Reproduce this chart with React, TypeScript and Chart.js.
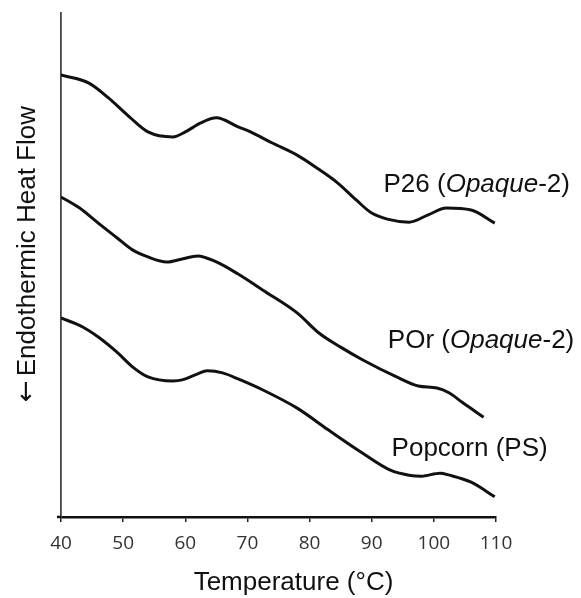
import React, { useEffect, useRef } from 'react';
import { Chart, registerables } from 'chart.js';

Chart.register(...registerables);

// Temperature (°C) samples for each thermogram
const tempP26 = [40, 44.5, 47.5, 51, 54, 58, 60, 62.5, 65, 68.5, 70.5, 74, 78, 81, 84.5, 87.5, 90, 92.5, 96, 99, 102, 106, 109.8];
const heatP26 = [87.7, 86.1, 83.3, 79.4, 76.4, 75.4, 76.4, 78.2, 79.2, 77.4, 76.4, 74.2, 71.8, 69.4, 66.3, 62.9, 60.3, 59.1, 58.5, 59.9, 61.3, 60.9, 58.3];

const tempPOr = [40, 43, 46, 49, 51.5, 54, 57, 59.5, 62, 65, 68.5, 72.5, 78, 81.5, 85, 88.5, 94, 97.5, 100.5, 102.5, 104.5, 108];
const heatPOr = [63.5, 61.3, 58.3, 55.4, 53.0, 51.6, 50.6, 51.2, 51.8, 50.6, 48.2, 45.0, 40.5, 36.5, 33.7, 31.2, 27.8, 26.0, 25.6, 24.6, 22.8, 19.8];

const tempPS = [40, 43.5, 46, 49, 51.5, 54, 58, 59.5, 62, 63.5, 66, 68.5, 72.5, 78, 83, 88.5, 93, 96, 98, 101, 102.5, 106, 109.8];
const heatPS = [39.5, 37.7, 35.7, 32.7, 29.8, 27.8, 27.0, 27.2, 28.4, 29.0, 28.6, 27.4, 25.2, 21.6, 17.3, 12.7, 9.3, 8.3, 8.1, 8.7, 8.3, 6.9, 4.0];

const xTickValues = [40, 50, 60, 70, 80, 90, 100, 110];
const xTitle = 'Temperature (°C)';
const yTitleArrow = '←';
const yTitle = 'Endothermic Heat Flow';

// Series labels: parts (italic flag) and anchor in data units
const labelP26 = [{ t: 'P26 (', i: false }, { t: 'Opaque', i: true }, { t: '-2)', i: false }];
const labelPOr = [{ t: 'POr (', i: false }, { t: 'Opaque', i: true }, { t: '-2)', i: false }];
const labelPS = [{ t: 'Popcorn (PS)', i: false }];
const labelAnchorX = [91.9, 92.6, 93.2];
const labelAnchorY = [64.5, 33.5, 12.1];

const FONT = '"Liberation Sans", Arial, sans-serif';

function toPoints(xs: number[], ys: number[]) {
  return xs.map((x, k) => ({ x, y: ys[k] }));
}

const textPlugin = {
  id: 'customText',
  afterDraw(chart: any) {
    const ctx = chart.ctx as CanvasRenderingContext2D;
    const xs = chart.scales.x;
    const ys = chart.scales.y;
    const area = chart.chartArea;
    ctx.save();
    // small overhang of the x axis to the left of the y axis
    ctx.strokeStyle = '#111';
    ctx.lineWidth = 2.5;
    ctx.beginPath();
    ctx.moveTo(area.left - 4, area.bottom);
    ctx.lineTo(area.left, area.bottom);
    ctx.stroke();

    ctx.fillStyle = '#111';
    ctx.textBaseline = 'alphabetic';
    ctx.textAlign = 'left';
    const labels = [labelP26, labelPOr, labelPS];
    labels.forEach((parts, k) => {
      let px = xs.getPixelForValue(labelAnchorX[k]);
      const py = ys.getPixelForValue(labelAnchorY[k]);
      parts.forEach((p) => {
        ctx.font = `${p.i ? 'italic ' : ''}26px ${FONT}`;
        ctx.fillText(p.t, px, py);
        px += ctx.measureText(p.t).width;
      });
    });
    // x-axis title
    ctx.font = `26px ${FONT}`;
    ctx.textAlign = 'center';
    ctx.fillText(xTitle, 293.5, 590);
    // y-axis title (rotated), arrow drawn with a font that has a long arrow
    ctx.translate(35, 254);
    ctx.rotate(-Math.PI / 2);
    ctx.font = `26px ${FONT}`;
    const wText = ctx.measureText(yTitle).width;
    ctx.font = `26px "DejaVu Sans", sans-serif`;
    const wArrow = ctx.measureText(yTitleArrow).width;
    const gap = 4;
    const total = wArrow + gap + wText;
    ctx.textAlign = 'left';
    ctx.fillText(yTitleArrow, -total / 2, -1);
    ctx.font = `26px ${FONT}`;
    ctx.fillText(yTitle, -total / 2 + wArrow + gap, 0);
    ctx.restore();
  },
};

export default function App() {
  const canvasRef = useRef<HTMLCanvasElement | null>(null);

  useEffect(() => {
    document.body.style.margin = '0';
    const canvas = canvasRef.current;
    if (!canvas) return;
    const mk = (label: string, xs: number[], ys: number[]) => ({
      label,
      data: toPoints(xs, ys),
      borderColor: '#111',
      borderWidth: 3,
      pointRadius: 0,
      fill: false,
      cubicInterpolationMode: 'monotone' as const,
    });
    const chart = new Chart(canvas, {
      type: 'line',
      data: {
        datasets: [
          mk('P26 (Opaque-2)', tempP26, heatP26),
          mk('POr (Opaque-2)', tempPOr, heatPOr),
          mk('Popcorn (PS)', tempPS, heatPS),
        ],
      },
      options: {
        animation: false,
        responsive: false,
        events: [],
        layout: { padding: { top: 13, right: 85, left: 0, bottom: 0 } },
        plugins: {
          legend: { display: false },
          tooltip: { enabled: false },
          title: { display: false },
        },
        scales: {
          x: {
            type: 'linear',
            min: 40,
            max: 110,
            afterFit: (s: any) => {
              s.height = 81;
            },
            afterBuildTicks: (s: any) => {
              s.ticks = xTickValues.map((v) => ({ value: v }));
            },
            grid: {
              display: true,
              drawOnChartArea: false,
              drawTicks: true,
              tickLength: 5,
              color: '#222',
              lineWidth: 1.5,
            },
            border: { display: true, color: '#111', width: 2.5 },
            ticks: {
              color: '#333',
              padding: 10,
              font: { family: '"Open Sans", "Liberation Sans", sans-serif', size: 19 },
              maxRotation: 0,
            },
          },
          y: {
            type: 'linear',
            min: 0,
            max: 100,
            afterFit: (s: any) => {
              s.width = 61;
            },
            grid: { display: false },
            border: { display: true, color: '#444', width: 1.8 },
            ticks: { display: false },
          },
        },
      },
      plugins: [textPlugin],
    });
    return () => chart.destroy();
  }, []);

  return (
    <div style={{ width: 581, height: 598, background: '#fff' }}>
      <canvas ref={canvasRef} width={581} height={598} style={{ display: 'block' }} />
    </div>
  );
}
